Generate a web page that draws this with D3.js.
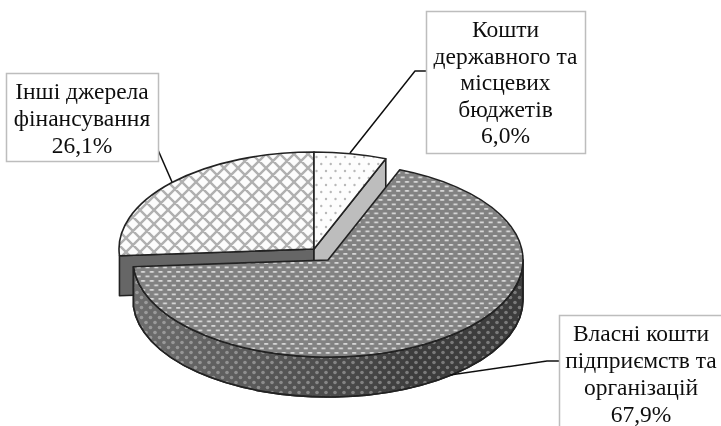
<!DOCTYPE html>
<html>
  <head>
    <title>Джерела фінансування</title>
    <script src="https://d3js.org/d3.v7.min.js"></script>
    <style>
      html, body { margin: 0; padding: 0; background: #fff; overflow: hidden; }
      text { font-family: "Liberation Serif", serif; font-size: 23.5px; fill: #111; text-anchor: middle; }
    </style>
  </head>
  <body>
    <script>
      const categories = ['Кошти державного та місцевих бюджетів', 'Власні кошти підприємств та організацій', 'Інші джерела фінансування'];
      const values = [6.0, 67.9, 26.1];
      const labelLines = [
        ['Кошти', 'державного та', 'місцевих', 'бюджетів'],
        ['Власні кошти', 'підприємств та', 'організацій'],
        ['Інші джерела', 'фінансування']
      ];
      const valueLabels = ['6,0%', '67,9%', '26,1%'];

      const w = 721;
      const h = 426;
      const rx = 195;
      const ry = 97;
      const depth = 40;
      const centre = { x: 314, y: 249 };
      const explode = [null, { x: 14, y: 11 }, null];

      const svg = d3.select('body').append('svg')
        .attr('width', w).attr('height', h)
        .style('display', 'block');

      const defs = svg.append('defs');

      // the source is a soft scan, a touch of blur gets the same look
      defs.append('filter').attr('id', 'soft')
        .attr('filterUnits', 'userSpaceOnUse')
        .attr('x', 0).attr('y', 0)
        .attr('width', w).attr('height', h)
        .append('feGaussianBlur').attr('stdDeviation', 0.4);

      const sideShade = defs.append('linearGradient').attr('id', 'sideShade')
        .attr('gradientUnits', 'userSpaceOnUse')
        .attr('x1', 130).attr('x2', 420).attr('y1', 0).attr('y2', 0);
      sideShade.append('stop').attr('offset', 0).attr('stop-color', '#fff').attr('stop-opacity', 0.26);
      sideShade.append('stop').attr('offset', 0.4).attr('stop-color', '#fff').attr('stop-opacity', 0.16);
      sideShade.append('stop').attr('offset', 1).attr('stop-color', '#fff').attr('stop-opacity', 0);

      function pattern(id, size, bg, draw) {
        const p = defs.append('pattern').attr('id', id)
          .attr('patternUnits', 'userSpaceOnUse')
          .attr('width', size[0]).attr('height', size[1]);
        p.append('rect').attr('width', size[0]).attr('height', size[1]).attr('fill', bg);
        draw(p);
      }

      pattern('bigTop', [8.8, 9], '#828282', p => {
        [[0.2, 1], [4.6, 5.5]].forEach(o => {
          p.append('rect').attr('x', o[0]).attr('y', o[1])
            .attr('width', 4).attr('height', 1.8).attr('fill', '#d6d6d6');
        });
      });
      pattern('bigSide', [9, 10], '#3c3c3c', p => {
        [[2, 2.5], [6.5, 7.5]].forEach(o => {
          p.append('circle').attr('cx', o[0]).attr('cy', o[1]).attr('r', 1.8).attr('fill', '#7a7a7a');
        });
      });
      pattern('lattice', [14, 14], '#fcfcfc', p => {
        p.append('path').attr('d', 'M-1,1L1,-1M0,14L14,0M13,15L15,13M-1,13L1,15M0,0L14,14M13,-1L15,1')
          .attr('stroke', '#b0b0b0').attr('stroke-width', 2.4);
      });
      pattern('dots', [19, 14], '#fdfdfd', p => {
        [[3, 3], [12.5, 3], [7.75, 10], [17.25, 10]].forEach(o => {
          p.append('circle').attr('cx', o[0]).attr('cy', o[1]).attr('r', 1.2).attr('fill', '#b8b8b8');
        });
      });

      const fills = ['url(#dots)', 'url(#bigTop)', 'url(#lattice)'];

      const pie = d3.pie().sort(null).value(d => d);
      const slices = pie(values);

      const px = d3.scaleLinear().domain([-1, 1]).range([-rx, rx]);
      const py = d3.scaleLinear().domain([-1, 1]).range([-ry, ry]);

      // d3.pie angles run clockwise from twelve o'clock
      function rim(a, o) {
        return [o.x + px(Math.sin(a)), o.y + py(-Math.cos(a))];
      }

      function topPath(s, o) {
        const p0 = rim(s.startAngle, o);
        const p1 = rim(s.endAngle, o);
        const large = s.endAngle - s.startAngle > Math.PI ? 1 : 0;
        return `M${o.x},${o.y}L${p0}A${rx},${ry} 0 ${large} 1 ${p1}Z`;
      }

      function rimPath(a0, a1, o) {
        const p0 = rim(a0, o);
        const p1 = rim(a1, o);
        return `M${p0}A${rx},${ry} 0 0 1 ${p1}L${p1[0]},${p1[1] + depth}A${rx},${ry} 0 0 0 ${p0[0]},${p0[1] + depth}Z`;
      }

      function radialWall(a, o) {
        const p = rim(a, o);
        return `M${o.x},${o.y}L${p}L${p[0]},${p[1] + depth}L${o.x},${o.y + depth}Z`;
      }

      const origin = i => explode[i]
        ? { x: centre.x + explode[i].x, y: centre.y + explode[i].y }
        : centre;

      const soft = svg.append('g').attr('filter', 'url(#soft)');

      const pieG = soft.append('g')
        .attr('stroke', '#222').attr('stroke-width', 1.6).attr('stroke-linejoin', 'round');

      // back pieces first, the exploded slice sits on top of their walls
      pieG.append('path').attr('d', radialWall(slices[2].startAngle, origin(2))).attr('fill', '#666');
      pieG.append('path').attr('d', radialWall(slices[0].endAngle, origin(0))).attr('fill', '#bdbdbd');
      pieG.append('path').attr('d', topPath(slices[2], origin(2))).attr('fill', fills[2]);
      pieG.append('path').attr('d', topPath(slices[0], origin(0))).attr('fill', fills[0]);

      const side = rimPath(Math.PI / 2, slices[1].endAngle, origin(1));
      pieG.append('path').attr('d', side).attr('fill', 'url(#bigSide)');
      pieG.append('path').attr('d', side).attr('fill', 'url(#sideShade)');
      pieG.append('path').attr('d', topPath(slices[1], origin(1))).attr('fill', fills[1]);

      const boxes = [
        { x: 426, y: 11, w: 159, h: 142, base: 37, step: 26.6 },
        { x: 559, y: 315, w: 164, h: 120, base: 341, step: 27 },
        { x: 6, y: 73, w: 152, h: 88, base: 99, step: 27 }
      ];
      const leaders = [
        [[426, 71], [415, 71], [350, 153]],
        [[559, 361], [547, 361], [450, 375]],
        [[158, 150], [172, 182]]
      ];

      const line = d3.line();
      soft.append('g').selectAll('path').data(leaders).enter().append('path')
        .attr('d', line).attr('fill', 'none').attr('stroke', '#111').attr('stroke-width', 1.5);

      const boxG = soft.append('g').selectAll('g').data(boxes).enter().append('g');
      boxG.append('rect')
        .attr('x', d => d.x + 0.5).attr('y', d => d.y + 0.5)
        .attr('width', d => d.w).attr('height', d => d.h)
        .attr('fill', '#fff').attr('stroke', '#bdbdbd').attr('stroke-width', 1.5);
      boxG.each(function (d, i) {
        const lines = labelLines[i].concat(valueLabels[i]);
        d3.select(this).selectAll('text').data(lines).enter().append('text')
          .attr('x', d.x + d.w / 2)
          .attr('y', (t, k) => d.base + k * d.step)
          .text(t => t);
      });
    </script>
  </body>
</html>
